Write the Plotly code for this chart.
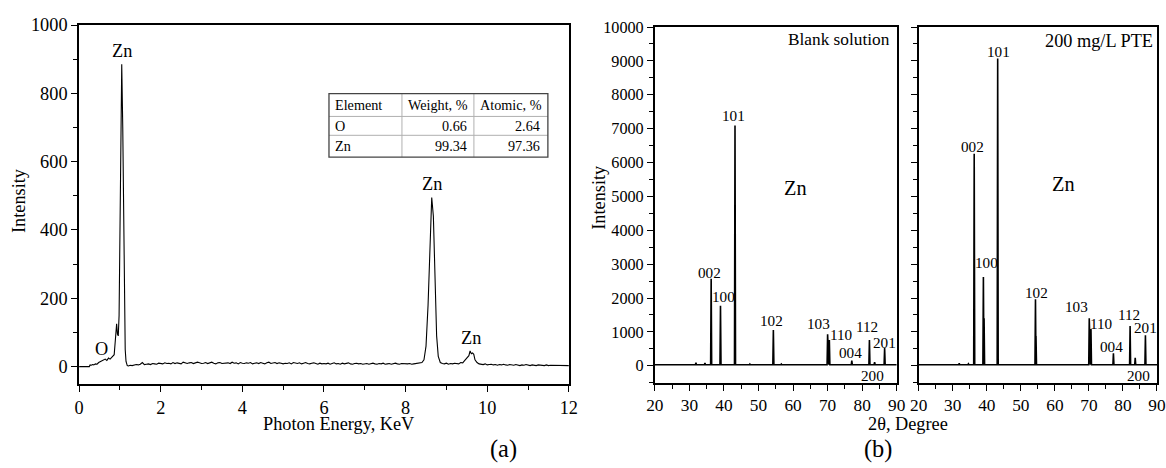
import plotly.graph_objects as go

# The photographed page keeps an 8px body margin and is scaled by about 0.985;
# positions below are given in reference pixels and converted to figure
# fractions through that factor.
OFF = 8
SX, SY = 0.985, 0.985
W, H = 1166, 468
FONT = "Liberation Serif"
FS = 1.0 / 0.985   # font size compensation

# ---------------- (a) EDS spectrum data ----------------
eds_front_x = [0, 0.25, 0.27, 0.30, 0.33, 0.36, 0.40, 0.44, 0.48, 0.52, 0.56, 0.60, 0.64, 0.68,
               0.72, 0.76, 0.80, 0.83, 0.86, 0.89, 0.92, 0.94, 0.96, 0.98, 1.00, 1.02, 1.045,
               1.07, 1.09, 1.11, 1.13, 1.15, 1.18, 1.21]
eds_front_y = [0, 0, 5, 4, 6, 5, 8, 7, 12, 15, 17, 19, 22, 18,
               25, 22, 28, 30, 35, 80, 125, 95, 90, 150, 450, 750, 885,
               700, 400, 150, 50, 15, 3, 2]

eds_base1_start = 1.25
eds_base1_y = [4, 3, 5, 6, 5, 7, 12, 6, 7, 8, 6, 9, 8, 7, 10, 9,
               8, 11, 9, 10, 8, 12, 9, 11, 10, 8, 13, 10, 9, 11, 12, 9, 10, 13, 11, 9,
               10, 12, 9, 11, 13, 10, 8, 11, 12, 9, 10, 12, 11, 9, 13, 10, 11, 8, 12, 10,
               9, 11, 10, 12, 8, 10, 11, 9, 12, 10, 8, 11, 13, 9, 10, 12, 9, 11, 10, 8,
               10, 9, 11, 8, 12, 10, 9, 11, 8, 10, 12, 9, 8, 10, 11, 9, 7, 10, 8, 9,
               8, 10, 7, 9, 11, 8, 9, 7, 10, 8, 9, 11, 8, 7, 9, 10, 8, 9, 7, 8,
               9, 7, 8, 10, 8, 7, 9, 8, 10, 7, 8, 9, 7, 8, 10, 8, 7, 9, 8, 7,
               8, 9, 7, 8, 9, 8, 10, 12]

eds_mid_x = [8.45, 8.50, 8.55, 8.60, 8.64, 8.68, 8.72, 8.76, 8.80, 8.85, 8.90, 8.95, 9.00,
             9.05, 9.10, 9.15, 9.20, 9.25, 9.30, 9.35, 9.40, 9.45, 9.50, 9.55, 9.58, 9.61,
             9.64, 9.67, 9.70, 9.75, 9.80]
eds_mid_y = [20, 60, 180, 400, 495, 440, 250, 90, 30, 12, 9, 8, 10,
             7, 9, 8, 10, 9, 8, 12, 11, 18, 25, 32, 46, 38,
             40, 36, 20, 12, 8]

eds_base2_start = 9.85
eds_base2_y = [7, 6, 8, 5, 6, 7, 5, 6, 4, 6, 5, 7, 5, 4, 6, 5, 4, 6, 5, 3, 5, 4,
               6, 4, 3, 5, 4, 3, 5, 4, 4, 3, 5, 3, 4, 4, 3, 5, 4, 3, 4, 3, 4, 3]

eds_labels = ["O", "Zn", "Zn", "Zn"]
eds_label_x = [0.54, 1.05, 8.64, 9.6]
eds_label_y = [52, 925, 534, 84]

table_header = ["Element", "Weight, %", "Atomic, %"]
table_elements = ["O", "Zn"]
table_weight = ["0.66", "99.34"]
table_atomic = ["2.64", "97.36"]

# ---------------- (b) XRD data ----------------
xrd_baseline = 30
blank_pos = [31.9, 34.5, 36.3, 39.0, 43.2, 47.5, 54.3, 56.6, 62.8, 68.0, 70.0, 70.5, 77.0, 82.1, 83.6, 86.5]
blank_int = [90, 80, 2570, 1770, 7090, 50, 1055, 50, 45, 40, 930, 760, 150, 760, 110, 520]

pte_pos = [31.9, 34.6, 36.3, 39.0, 39.2, 43.2, 54.3, 54.45, 70.1, 70.6, 77.2, 82.1, 83.6, 86.6]
pte_int = [70, 55, 6255, 2620, 1400, 9070, 1965, 880, 1400, 1085, 370, 1175, 235, 900]

blank_lab = ["002", "100", "101", "102", "103", "110", "004", "112", "201", "200"]
blank_lab_x = [35.7, 39.8, 42.9, 53.9, 67.5, 74.0, 76.7, 81.5, 86.4, 83.0]
blank_lab_y = [2765, 2030, 7380, 1330, 1250, 930, 390, 1150, 690, -290]

pte_lab = ["002", "101", "100", "102", "103", "110", "004", "112", "201", "200"]
pte_lab_x = [35.8, 43.3, 39.8, 54.5, 66.3, 73.8, 76.7, 81.8, 86.6, 84.5]
pte_lab_y = [6460, 9270, 3040, 2160, 1740, 1250, 566, 1500, 1120, -290]


def stick_pattern(pos, inten, base, lo=20, hi=90, hw=0.15):
    xs, ys = [lo], [base]
    for p, h in sorted(zip(pos, inten)):
        xs += [p - hw, p, p + hw]
        ys += [base, h, base]
    xs.append(hi)
    ys.append(base)
    return xs, ys


eds_x = list(eds_front_x)
eds_y = list(eds_front_y)
eds_x += [round(eds_base1_start + 0.05 * i, 3) for i in range(len(eds_base1_y))]
eds_y += eds_base1_y
eds_x += eds_mid_x
eds_y += eds_mid_y
eds_x += [round(eds_base2_start + 0.05 * i, 3) for i in range(len(eds_base2_y))]
eds_y += eds_base2_y

fig = go.Figure()
fig.add_trace(go.Scatter(x=eds_x, y=eds_y, mode="lines", line=dict(color="black", width=1.1),
                         xaxis="x", yaxis="y", showlegend=False, hoverinfo="skip"))

bx, by = stick_pattern(blank_pos, blank_int, xrd_baseline)
px, py = stick_pattern(pte_pos, pte_int, xrd_baseline)
fig.add_trace(go.Scatter(x=bx, y=by, mode="lines", line=dict(color="black", width=1.6),
                         xaxis="x2", yaxis="y2", showlegend=False, hoverinfo="skip"))
fig.add_trace(go.Scatter(x=px, y=py, mode="lines", line=dict(color="black", width=1.6),
                         xaxis="x3", yaxis="y3", showlegend=False, hoverinfo="skip"))


def clamp(v):
    return max(0.0, min(1.0, v))


def px2x(p):
    return (p / SX - OFF) / W


def px2y(p):
    return 1 - (p / SY - OFF) / H


def f(size):
    return round(size * FS, 1)


dom_a_x = [clamp(px2x(78)), clamp(px2x(568))]
dom_a_y = [clamp(px2y(384)), clamp(px2y(23))]
dom_b1_x = [clamp(px2x(654)), clamp(px2x(896))]
dom_b2_x = [clamp(px2x(918)), clamp(px2x(1159))]
dom_b_y = [clamp(px2y(383)), clamp(px2y(25))]

axis_common = dict(showgrid=False, zeroline=False, showline=True, linecolor="black", linewidth=1.8,
                   mirror=True, ticks="outside", tickcolor="black", tickwidth=1.3,
                   tickfont=dict(family=FONT, size=f(18), color="black"))
minor_style = dict(ticks="outside", ticklen=4, tickcolor="black", tickwidth=1.2)
mirror_common = dict(ticks="inside", ticklen=3, tickcolor="black", tickwidth=1,
                     showticklabels=False, showgrid=False, zeroline=False, showline=False)

fig.update_layout(
    width=W, height=H, margin=dict(l=0, r=0, t=0, b=0),
    paper_bgcolor="white", plot_bgcolor="white",
    font=dict(family=FONT, color="black"),
    xaxis=dict(axis_common, domain=dom_a_x, anchor="y", range=[0, 12], dtick=2, ticklen=6,
               minor=dict(minor_style, dtick=1)),
    yaxis=dict(axis_common, domain=dom_a_y, anchor="x", range=[-50, 1000], dtick=200, ticklen=6,
               minor=dict(minor_style, dtick=100)),
    xaxis2=dict(axis_common, domain=dom_b1_x, anchor="y2", range=[20, 90], dtick=10, ticklen=6,
                tickfont=dict(family=FONT, size=f(17), color="black"),
                minor=dict(minor_style, dtick=5)),
    yaxis2=dict(axis_common, domain=dom_b_y, anchor="x2", range=[-500, 10000], dtick=1000, ticklen=6,
                tickformat="d", tickfont=dict(family=FONT, size=f(16), color="black"),
                minor=dict(minor_style, dtick=500)),
    xaxis3=dict(axis_common, domain=dom_b2_x, anchor="y3", range=[20, 90], dtick=10, ticklen=6,
                tickfont=dict(family=FONT, size=f(17), color="black"),
                minor=dict(minor_style, dtick=5)),
    yaxis3=dict(axis_common, domain=dom_b_y, anchor="x3", range=[-500, 10000], dtick=1000, ticklen=6,
                showticklabels=False, minor=dict(minor_style, dtick=500)),
    xaxis4=dict(mirror_common, overlaying="x", side="top", anchor="y", range=[0, 12], dtick=1),
    yaxis4=dict(mirror_common, overlaying="y", side="right", anchor="x", range=[-50, 1000], dtick=100),
    xaxis5=dict(mirror_common, overlaying="x2", side="top", anchor="y2", range=[20, 90], dtick=5),
    yaxis5=dict(mirror_common, overlaying="y2", side="right", anchor="x2", range=[-500, 10000], dtick=500),
    xaxis6=dict(mirror_common, overlaying="x3", side="top", anchor="y3", range=[20, 90], dtick=5),
    yaxis6=dict(mirror_common, overlaying="y3", side="right", anchor="x3", range=[-500, 10000], dtick=500),
)

ann = []


def add_text(text, x, y, xref, yref, size, xanchor="center", yanchor="middle", angle=0):
    ann.append(dict(text=text, x=x, y=y, xref=xref, yref=yref, xanchor=xanchor, yanchor=yanchor,
                    textangle=angle, showarrow=False,
                    font=dict(family=FONT, size=f(size), color="black")))


for t, x, y in zip(eds_labels, eds_label_x, eds_label_y):
    add_text(t, x, y, "x", "y", 18)
for t, x, y in zip(blank_lab, blank_lab_x, blank_lab_y):
    add_text(t, x, y, "x2", "y2", 15)
for t, x, y in zip(pte_lab, pte_lab_x, pte_lab_y):
    add_text(t, x, y, "x3", "y3", 15)
add_text("Blank solution", px2x(891), px2y(38), "paper", "paper", 17, xanchor="right")
add_text("200 mg/L PTE", px2x(1154), px2y(39), "paper", "paper", 18, xanchor="right")
add_text("Zn", 60.8, 5260, "x2", "y2", 20)
add_text("Zn", 62.4, 5360, "x3", "y3", 20)

add_text("Intensity", px2x(18), px2y(200), "paper", "paper", 18, angle=-90)
add_text("Photon Energy, KeV", px2x(338), px2y(425), "paper", "paper", 18)
add_text("Intensity", px2x(598), px2y(196), "paper", "paper", 18, angle=-90)
add_text("2θ, Degree", px2x(907), px2y(425), "paper", "paper", 18)
add_text("(a)", px2x(503), px2y(450), "paper", "paper", 24)
add_text("(b)", px2x(877), px2y(450), "paper", "paper", 24)

# table
col_px = [328, 401, 473, 547]
row_px = [92, 115, 134, 156]
shapes = []
for c in col_px[1:-1]:
    shapes.append(dict(type="line", xref="paper", yref="paper", x0=px2x(c), x1=px2x(c),
                       y0=px2y(row_px[0]), y1=px2y(row_px[-1]), line=dict(color="#b0b0b0", width=1)))
for r in row_px[1:-1]:
    shapes.append(dict(type="line", xref="paper", yref="paper", x0=px2x(col_px[0]), x1=px2x(col_px[-1]),
                       y0=px2y(r), y1=px2y(r), line=dict(color="#b0b0b0", width=1)))
shapes.append(dict(type="rect", xref="paper", yref="paper", x0=px2x(col_px[0]), x1=px2x(col_px[-1]),
                   y0=px2y(row_px[-1]), y1=px2y(row_px[0]), line=dict(color="#444444", width=1.3)))

for i, h in enumerate(table_header):
    add_text(h, px2x(col_px[i] + 4), px2y((row_px[0] + row_px[1]) / 2), "paper", "paper", 14, xanchor="left")
rows = list(zip(table_elements, table_weight, table_atomic))
for r, (e, wv, av) in enumerate(rows):
    yc = px2y((row_px[r + 1] + row_px[r + 2]) / 2)
    add_text(e, px2x(col_px[0] + 4), yc, "paper", "paper", 14, xanchor="left")
    add_text(wv, px2x(col_px[2] - 5), yc, "paper", "paper", 14, xanchor="right")
    add_text(av, px2x(col_px[3] - 6), yc, "paper", "paper", 14, xanchor="right")

fig.update_layout(annotations=ann, shapes=shapes)
fig.write_html("out.html")
